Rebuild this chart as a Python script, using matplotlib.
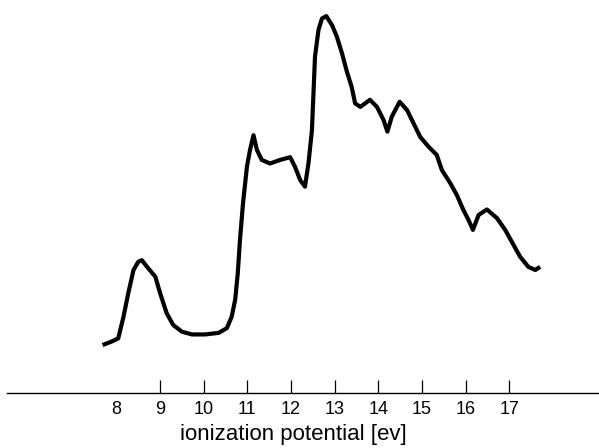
import matplotlib
matplotlib.use('Agg')
import matplotlib.pyplot as plt

# photoelectron spectrum
energy_ev = [7.68, 7.89, 8.04, 8.16, 8.27, 8.39, 8.50, 8.58, 8.73, 8.89,
             9.00, 9.15, 9.30, 9.50, 9.73, 10.03, 10.34, 10.53, 10.64, 10.72,
             10.78, 10.83, 10.90, 10.99, 11.06, 11.14, 11.22, 11.33, 11.52, 11.75,
             11.98, 12.09, 12.21, 12.32, 12.40, 12.48, 12.55, 12.63, 12.71, 12.81,
             12.94, 13.05, 13.17, 13.28, 13.39, 13.47, 13.59, 13.81, 13.97, 14.12,
             14.21, 14.31, 14.49, 14.66, 14.81, 14.96, 15.15, 15.34, 15.46, 15.65,
             15.80, 15.95, 16.07, 16.17, 16.30, 16.49, 16.72, 16.91, 17.06, 17.25,
             17.44, 17.60, 17.71]
intensity = [12.2, 13.1, 13.9, 19.4, 25.4, 31.3, 33.4, 33.8, 31.7, 29.6,
             25.4, 20.3, 17.3, 15.6, 14.9, 14.9, 15.3, 16.5, 19.4, 23.7,
             30.5, 38.9, 48.3, 57.6, 61.8, 65.6, 61.8, 59.3, 58.4, 59.3,
             60.0, 57.6, 54.2, 52.5, 58.4, 66.9, 85.6, 92.4, 95.3, 95.9,
             93.6, 90.7, 86.4, 81.8, 77.9, 73.7, 72.8, 74.6, 72.8, 69.5,
             66.5, 70.3, 74.1, 72.0, 68.6, 65.2, 62.7, 60.6, 56.7, 53.4,
             50.4, 46.6, 44.0, 41.5, 45.3, 46.7, 44.5, 41.5, 38.5, 34.7,
             32.1, 31.3, 32.1]

tick_values = [8, 9, 10, 11, 12, 13, 14, 15, 16, 17]
tick_labels = ['8', '9', '10', '11', '12', '13', '14', '15', '16', '17']

plt.rcParams['font.family'] = ['Liberation Sans', 'DejaVu Sans']

fig = plt.figure(figsize=(5.99, 4.48), dpi=100)
ax = fig.add_axes([7 / 599, 55 / 448, 592 / 599, 393 / 448])

ax.plot(energy_ev, intensity, color='black', lw=3.0,
        solid_joinstyle='round', solid_capstyle='butt')

ax.set_xlim(5.49, 19.06)
ax.set_ylim(0, 100)

for side in ['left', 'right', 'top']:
    ax.spines[side].set_visible(False)
ax.spines['bottom'].set_linewidth(1.0)
ax.set_yticks([])

ax.set_xticks(tick_values)
ax.set_xticklabels(tick_labels, fontsize=13)
ax.tick_params(axis='x', direction='in', length=9.5, width=0.9, pad=6)
# the "8" label has no tick mark in the original
ax.xaxis.get_major_ticks()[0].tick1line.set_visible(False)

ax.set_xlabel('ionization potential [ev]', fontsize=16, va='baseline')
ax.xaxis.set_label_coords(0.483, -47 / 393)

fig.savefig('out.png', dpi=100)
